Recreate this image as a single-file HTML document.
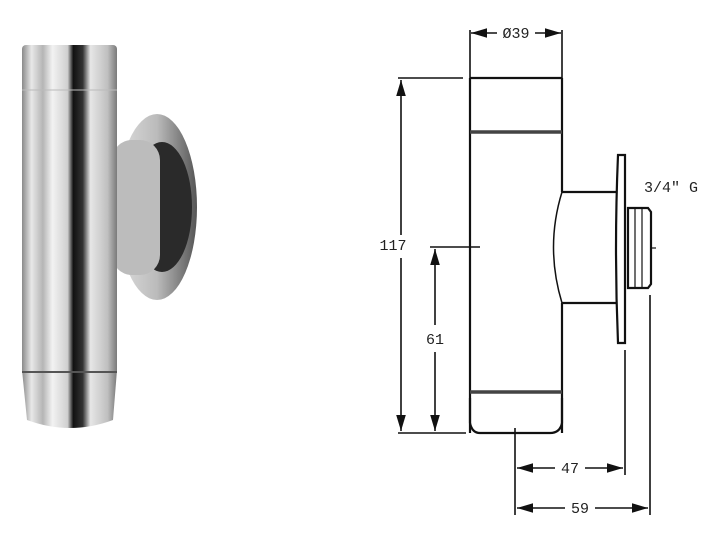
<!DOCTYPE html>
<html><head><style>body{margin:0;background:#fff;width:708px;height:533px;overflow:hidden}</style></head><body>
<svg width="708" height="533" viewBox="0 0 708 533" xmlns="http://www.w3.org/2000/svg">
<defs>
<linearGradient id="tube" x1="0" x2="1" y1="0" y2="0">
<stop offset="0" stop-color="#8a8a8a"/><stop offset="0.1" stop-color="#e8e8e8"/><stop offset="0.22" stop-color="#b5b5b5"/><stop offset="0.32" stop-color="#f2f2f2"/><stop offset="0.48" stop-color="#d0d0d0"/><stop offset="0.54" stop-color="#111"/><stop offset="0.64" stop-color="#333"/><stop offset="0.72" stop-color="#e6e6e6"/><stop offset="0.9" stop-color="#c0c0c0"/><stop offset="1" stop-color="#7a7a7a"/>
</linearGradient>
<linearGradient id="disc" x1="0" x2="1"><stop offset="0" stop-color="#ddd"/><stop offset="0.5" stop-color="#bbb"/><stop offset="1" stop-color="#555"/></linearGradient>
<marker id="a" viewBox="0 0 10 6" refX="10" refY="3" markerWidth="10" markerHeight="6" orient="auto-start-reverse"><path d="M0,0L10,3L0,6z" fill="#111"/></marker>
</defs>
<ellipse cx="157" cy="207" rx="40" ry="93" fill="url(#disc)"/>
<ellipse cx="162" cy="207" rx="30" ry="65" fill="#2a2a2a"/>
<rect x="112" y="140" width="48" height="135" rx="20" fill="#bcbcbc"/>
<rect x="22" y="45" width="95" height="330" rx="4" fill="url(#tube)"/>
<path d="M22,370 L117,370 L113,420 Q70,436 27,420 Z" fill="url(#tube)"/>
<line x1="22" y1="372" x2="117" y2="372" stroke="#555" stroke-width="2"/>
<line x1="22" y1="90" x2="117" y2="90" stroke="#bbb" stroke-width="1"/>
<g fill="none" stroke="#111" stroke-width="2.2">
<path d="M470,78 L562,78 M470,78 L470,433 M562,78 L562,192 M562,303 L562,433"/>
<path d="M470,132 L562,132" stroke-width="3.5" stroke="#444"/>
<path d="M470,392 L562,392" stroke-width="3.5" stroke="#444"/>
<path d="M470,398 L470,423 Q472,433 480,433 L550,433 Q560,433 562,423 L562,398"/>
<path d="M562,192 L617,192 M562,303 L617,303"/>
<path d="M562,192 Q545,247 562,303" stroke-width="1.5"/>
<path d="M618,155 L625,155 L625,343 L618,343 Q614,249 618,155 Z" fill="#fff"/>
<path d="M628,208 L648,208 L651,212 L651,284 L648,288 L628,288 Z"/>
<path d="M635,208 L635,288 M642,208 L642,288" stroke-width="1.2"/>
<path d="M651,248 L656,248" stroke-width="1.2"/>
<g stroke-width="1.6">
<path d="M470,30 L470,78 M562,30 L562,78"/>
<path d="M471,33 L497,33 M535,33 L561,33" marker-start="url(#a)" marker-end="url(#a)"/>
<path d="M398,78 L463,78 M398,433 L466,433"/>
<path d="M401,80 L401,235" marker-start="url(#a)"/>
<path d="M401,258 L401,431" marker-end="url(#a)"/>
<path d="M430,247 L480,247"/>
<path d="M435,249 L435,325" marker-start="url(#a)"/>
<path d="M435,352 L435,431" marker-end="url(#a)"/>
<path d="M515,428 L515,515 M625,350 L625,475 M650,295 L650,515"/>
<path d="M517,468 L555,468 M585,468 L623,468" marker-start="url(#a)" marker-end="url(#a)"/>
<path d="M517,508 L565,508 M595,508 L648,508" marker-start="url(#a)" marker-end="url(#a)"/>
</g>
</g>
<g font-family="Liberation Mono, monospace" font-size="15" fill="#222">
<text x="516" y="38" text-anchor="middle">Ø39</text>
<text x="393" y="250" text-anchor="middle">117</text>
<text x="435" y="344" text-anchor="middle">61</text>
<text x="570" y="473" text-anchor="middle">47</text>
<text x="580" y="513" text-anchor="middle">59</text>
<text x="644" y="192">3/4" G</text>
</g>
</svg>
</body></html>
